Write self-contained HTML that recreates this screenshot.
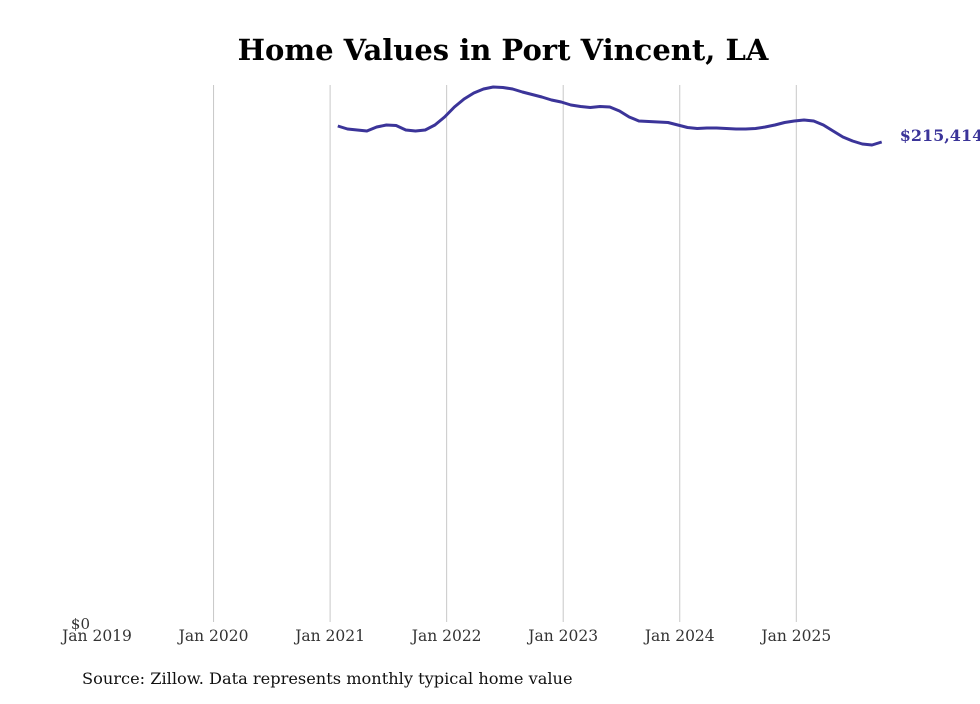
<!DOCTYPE html>
<html><head><meta charset="utf-8"><style>
body{margin:0;background:#fff;width:980px;height:699px;overflow:hidden}
svg text{font-family:"DejaVu Serif","Liberation Serif",serif}
</style></head><body>
<svg width="980" height="699">
<text x="503" y="60" text-anchor="middle" font-size="29" font-weight="bold" fill="#000">Home Values in Port Vincent, LA</text>
<g id="grid"></g>
<g id="xt"></g>
<text x="90" y="629" text-anchor="end" font-size="15" fill="#333">$0</text>
<path id="line" fill="none" stroke="#3b3499" stroke-width="3" stroke-linejoin="round"/>
<text id="lastlab" font-size="16" font-weight="bold" fill="#3b3499"></text>
<text x="82" y="684" font-size="16.2" fill="#111">Source: Zillow. Data represents monthly typical home value</text>
</svg>
<script>
const years=[2019,2020,2021,2022,2023,2024,2025];
const startYear=2021, startMonth=1; // Feb 2021 (0-based month)
const values=[222556,221216,220769,220322,222109,223003,222780,220769,220322,220769,223003,
226578,231047,234623,237304,239092,239985,239762,239092,237751,236634,235516,234176,
233282,231941,231271,230824,231271,231047,229260,226578,224791,224567,224344,224120,
223003,221886,221439,221662,221662,221439,221216,221216,221439,222109,223003,224120,
224791,225238,224791,223003,220322,217640,215853,214512,214065,215414];
const lastLabel="$215,414";
const x0=97, pxYear=116.55, yBase=624, pxPer=482/215414;
const X=t=>x0+(t-2019)*pxYear;
const Y=v=>yBase-v*pxPer;
const ns="http://www.w3.org/2000/svg";
const grid=document.getElementById('grid'), xt=document.getElementById('xt');
years.forEach((yr,i)=>{
  if(i>0){const l=document.createElementNS(ns,'line');
  
  
  l.setAttribute('x1',X(yr));l.setAttribute('x2',X(yr));l.setAttribute('y1',85);l.setAttribute('y2',622);
  l.setAttribute('stroke','#c8c8c8');l.setAttribute('stroke-width','1');grid.appendChild(l);}
  const t=document.createElementNS(ns,'text');
  
  
  t.setAttribute('x',X(yr));t.setAttribute('y',641);t.setAttribute('text-anchor','middle');
  t.setAttribute('font-size','15.5');t.setAttribute('fill','#333');t.textContent='Jan '+yr;xt.appendChild(t);
});
let d='';
values.forEach((v,i)=>{const t=startYear+(startMonth+i)/12;d+=(i?'L':'M')+(X(t)-2).toFixed(1)+','+Y(v).toFixed(1);});
document.getElementById('line').setAttribute('d',d);
const lt=startYear+(startMonth+values.length-1)/12;
const lab=document.getElementById('lastlab');
lab.setAttribute('x',X(lt)+16);lab.setAttribute('y',Y(values[values.length-1])-1);lab.textContent=lastLabel;
</script>
</body></html>
